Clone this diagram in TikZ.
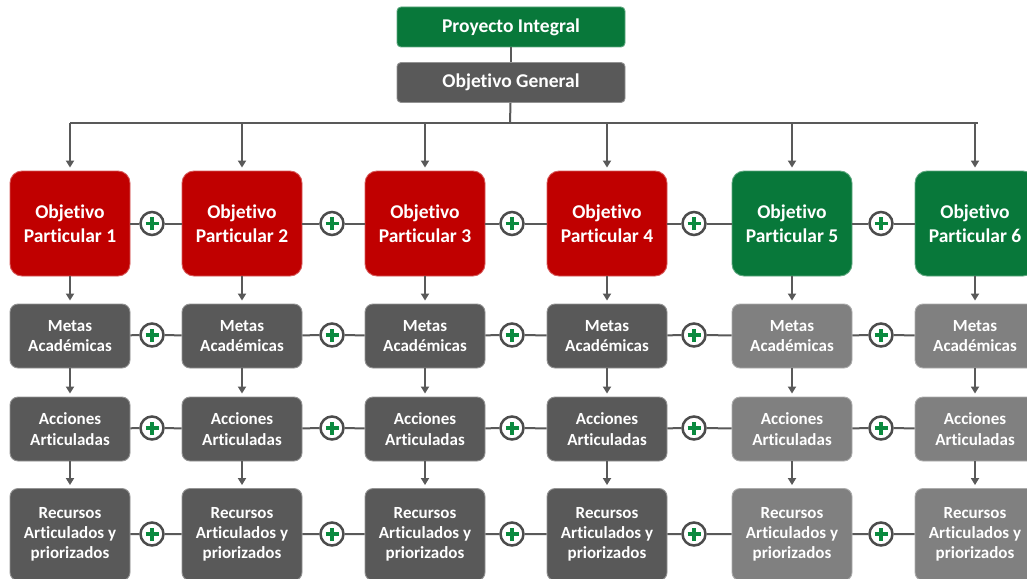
\documentclass[tikz,border=0pt]{standalone}
\usepackage{fontspec}
\setmainfont{Carlito}[Ligatures=CommonOff]
\usetikzlibrary{arrows.meta,positioning}

\definecolor{rojoobj}{HTML}{C00000}
\definecolor{verdeobj}{HTML}{08783A}
\definecolor{grisosc}{HTML}{595959}
\definecolor{grisclaro}{HTML}{808080}
\definecolor{gristrazo}{HTML}{595959}
\definecolor{verdemas}{HTML}{0B8A3F}

\tikzset{
  caja/.style={fill=#1, draw=#1!65!white, line width=0.9pt, text=white,
    align=center, inner sep=0pt, minimum width=120pt},
  titulo/.style={caja=#1, minimum width=228pt, minimum height=40pt,
    rounded corners=4pt, font=\bfseries\fontsize{19.5}{23.5}\selectfont},
  objetivo/.style={caja=#1, minimum height=105pt, rounded corners=12pt,
    font=\bfseries\fontsize{19.5}{23.5}\selectfont},
  meta/.style={caja=#1, minimum height=64pt, rounded corners=8pt,
    font=\bfseries\fontsize{17}{20.3}\selectfont},
  linea/.style={draw=gristrazo, line width=2pt},
  flecha/.style={linea, -{Triangle[width=8pt,length=7pt]}, shorten >=3pt},
  mas/.style={circle, draw=gristrazo!85!black, line width=2.5pt, fill=white,
    minimum size=23pt, inner sep=0pt,
    path picture={
      \draw[verdemas, line width=3.4pt]
        ([xshift=-6.5pt]path picture bounding box.center) --
        ([xshift=6.5pt]path picture bounding box.center)
        ([yshift=-6.5pt]path picture bounding box.center) --
        ([yshift=6.5pt]path picture bounding box.center);
    }},
}

\begin{document}
\begin{tikzpicture}[x=1pt, y=-1pt]
  \useasboundingbox (0,0) rectangle (1027,578);

  % Cabecera
  \node[titulo=verdeobj] (pi) at (511,27) {Proyecto Integral};
  \node[titulo=grisosc] (og) at (511,82.5) {Objetivo General};
  \coordinate (bus) at (510,123);
  \draw[linea] (pi) -- (og);
  \draw[linea] (og) -- (bus);

  % Columnas
  \foreach \i/\x/\cop/\cgr in {1/70/rojoobj/grisosc, 2/242/rojoobj/grisosc,
      3/425/rojoobj/grisosc, 4/607/rojoobj/grisosc,
      5/792/verdeobj/grisclaro, 6/975/verdeobj/grisclaro} {
    \coordinate (b\i) at (\x,123);
    \node[objetivo=\cop] (op\i) at (\x,223.5) {Objetivo\\Particular \i};
    \node[meta=\cgr] (me\i) at (\x,336) {Metas\\Académicas};
    \node[meta=\cgr] (ac\i) at (\x,429) {Acciones\\Articuladas};
    \node[meta=\cgr, minimum height=92pt] (re\i) at (\x,534.5)
      {Recursos\\Articulados y\\priorizados};
    \draw[flecha] (b\i) -- (op\i);
    \draw[flecha] (op\i) -- (me\i);
    \draw[flecha] (me\i) -- (ac\i);
    \draw[flecha] (ac\i) -- (re\i);
  }
  \draw[linea] (b1) -- ([xshift=3pt]b6);

  % Signos de suma
  \foreach \i/\j/\x in {1/2/152, 2/3/332, 3/4/512, 4/5/694, 5/6/881} {
    \foreach \f/\y in {op/223.5, me/335, ac/428, re/534} {
      \node[mas] (m\f\i) at (\x,\y) {};
      \draw[linea] (\f\i) -- (m\f\i) -- (\f\j);
    }
  }
\end{tikzpicture}
\end{document}
